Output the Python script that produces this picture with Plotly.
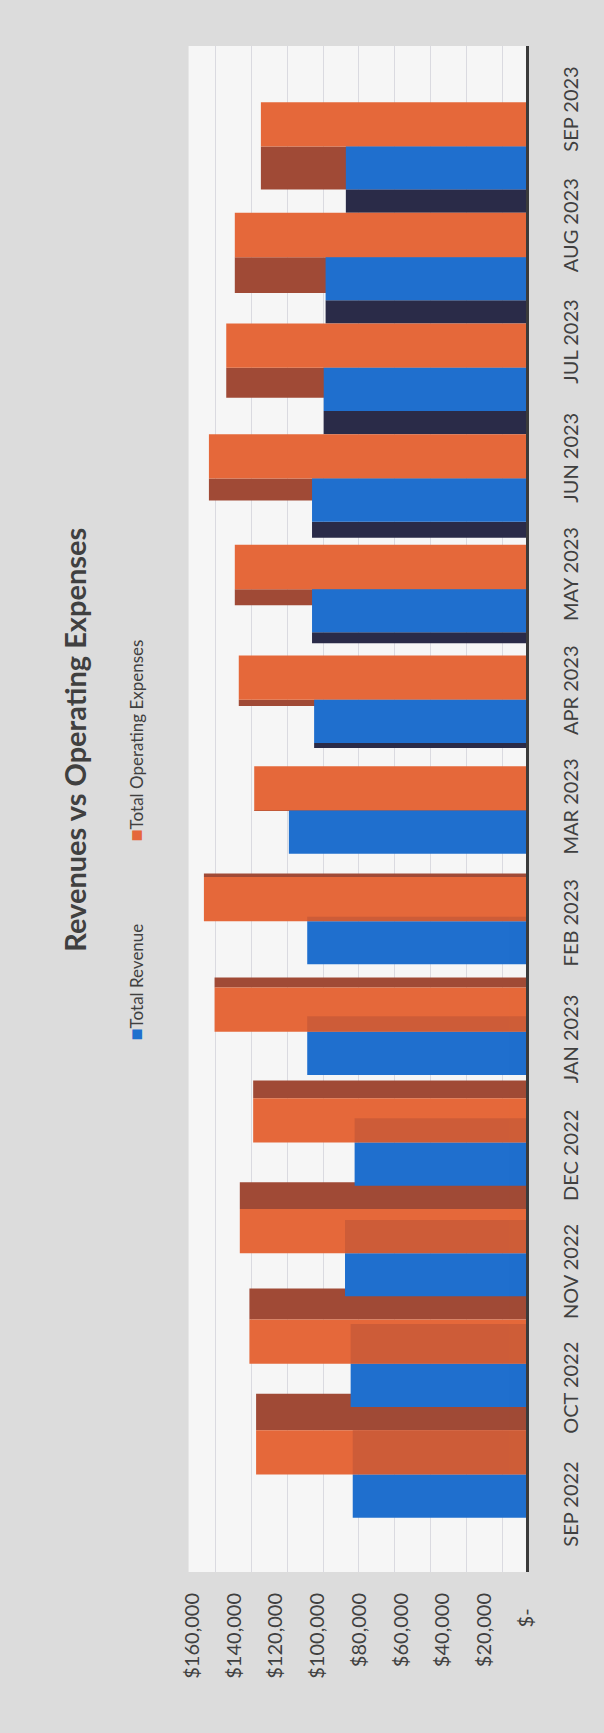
import plotly.graph_objects as go

# ---------------- data ----------------
months = ["SEP 2022", "OCT 2022", "NOV 2022", "DEC 2022", "JAN 2023", "FEB 2023",
          "MAR 2023", "APR 2023", "MAY 2023", "JUN 2023", "JUL 2023", "AUG 2023", "SEP 2023"]
total_revenue = [83200, 84200, 86900, 82300, 105000, 105000, 113800,
                 101700, 102700, 102700, 97100, 96200, 86500]
total_operating_expenses = [129500, 132700, 137300, 130900, 149400, 154500, 130400,
                            137800, 139700, 152100, 143800, 139700, 127200]
value_ticks = [0, 20000, 40000, 60000, 80000, 100000, 120000, 140000, 160000]
value_tick_labels = ["$-\u00a0\u00a0\u00a0", "$20,000", "$40,000", "$60,000", "$80,000",
                     "$100,000", "$120,000", "$140,000", "$160,000"]

# ---------------- styling (pseudo-3D depth faces, in category units) ----------------
FONT = "Lato"
TXT = "#404040"
C_EXP = "#e5683a"
C_EXP_SIDE = "#a04a36"
C_REV = "#1f6fce"
C_REV_SIDE = "#2a2b48"
C_REV_SIDE_BACK = "#c85a38"
W_EXP, W_REV = 0.40, 0.39
exp_depth = [0.33, 0.28, 0.24, 0.16, 0.09, 0.03, 0.0, 0.055, 0.145, 0.20, 0.27, 0.325, 0.39]
rev_depth = [0.40, 0.36, 0.30, 0.22, 0.14, 0.04, 0.0, 0.045, 0.10, 0.145, 0.21, 0.21, 0.21]
n = len(months)
up = [i < 6 for i in range(n)]      # lower part of the chart: side faces shown above
down = [i > 6 for i in range(n)]    # upper part: side faces shown below

fig = go.Figure()

# expense side faces
fig.add_trace(go.Bar(
    y=months, x=total_operating_expenses, orientation="h",
    offset=[W_EXP if up[i] else -exp_depth[i] for i in range(n)],
    width=exp_depth, marker=dict(color=C_EXP_SIDE, line=dict(width=0)),
    showlegend=False, hoverinfo="skip"))

# revenue side faces (upper part)
idx = [i for i in range(n) if down[i]]
fig.add_trace(go.Bar(
    y=[months[i] for i in idx], x=[total_revenue[i] for i in idx], orientation="h",
    offset=[-W_REV - rev_depth[i] for i in idx], width=[rev_depth[i] for i in idx],
    marker=dict(color=C_REV_SIDE, line=dict(width=0)),
    showlegend=False, hoverinfo="skip"))

# front faces
fig.add_trace(go.Bar(
    y=months, x=total_operating_expenses, orientation="h", name="Total Operating Expenses",
    offset=0.0, width=W_EXP, marker=dict(color=C_EXP, line=dict(width=0)), showlegend=False))
fig.add_trace(go.Bar(
    y=months, x=total_revenue, orientation="h", name="Total Revenue",
    offset=-W_REV, width=W_REV, marker=dict(color=C_REV, line=dict(width=0)), showlegend=False))

# revenue side faces seen through expenses (lower part)
idx2 = [i for i in range(n) if up[i]]
fig.add_trace(go.Bar(
    y=[months[i] for i in idx2], x=[total_revenue[i] for i in idx2], orientation="h",
    offset=0.0, width=[rev_depth[i] for i in idx2],
    marker=dict(color=C_REV_SIDE_BACK, line=dict(width=0)), opacity=0.8,
    showlegend=False, hoverinfo="skip"))

# invisible helpers for the back-wall grid axis and the label axis
fig.add_trace(go.Scatter(y=months, x=total_operating_expenses, xaxis="x2", yaxis="y",
                         mode="markers", marker=dict(opacity=0), showlegend=False, hoverinfo="skip"))
fig.add_trace(go.Scatter(y=months, x=total_revenue, xaxis="x", yaxis="y2",
                         mode="markers", marker=dict(opacity=0), showlegend=False, hoverinfo="skip"))

W, H = 604, 1733
x_left, x_zero = 185, 535
y_top, y_bot = 46, 1572
px_per_dollar = (535 - 189) / 160000
back_px_per_dollar = (510 - 213) / 160000

x_dom = [x_left / W, x_zero / W]
y_dom = [1 - y_bot / H, 1 - y_top / H]

bar_center0, bar_step = 1474.5, 110.67
lab_center0, lab_step = 1507.0, 116.25

fig.update_layout(
    width=W, height=H, margin=dict(l=0, r=0, t=0, b=0),
    paper_bgcolor="#dcdcdc", plot_bgcolor="#f6f6f6",
    barmode="overlay",
    font=dict(family=FONT, color=TXT, size=20),
    xaxis=dict(domain=x_dom, range=[(x_zero - x_left) / px_per_dollar, 0],
               tickvals=value_ticks, ticktext=value_tick_labels, tickangle=-90,
               showgrid=False, zeroline=False, showline=False, ticks="",
               ticklabelstandoff=16, tickfont=dict(family=FONT, size=20, color=TXT)),
    xaxis2=dict(domain=x_dom, overlaying="x", anchor="y",
                range=[(510 - x_left) / back_px_per_dollar, (510 - x_zero) / back_px_per_dollar],
                tickvals=value_ticks, showticklabels=False, showgrid=True,
                gridcolor="#dadae0", gridwidth=1, zeroline=False, showline=False),
    yaxis=dict(domain=y_dom, type="category", categoryorder="array", categoryarray=months,
               range=[(bar_center0 - y_bot) / bar_step, (bar_center0 - y_top) / bar_step],
               side="right", showline=True, linecolor="#3a3a3a", linewidth=3,
               showticklabels=False, showgrid=False, zeroline=False, ticks=""),
    yaxis2=dict(type="category", categoryorder="array", categoryarray=months,
                overlaying="y", anchor="x", side="right",
                range=[(lab_center0 - y_bot) / lab_step, (lab_center0 - y_top) / lab_step],
                tickangle=-90, showline=False, showgrid=False, zeroline=False, ticks="",
                ticklabelstandoff=31, tickfont=dict(family=FONT, size=20, color=TXT)),
    annotations=[
        dict(text="<b>Revenues vs Operating Expenses</b>", textangle=-90,
             x=66 / W, y=1 - 740 / H, xref="paper", yref="paper",
             xanchor="center", yanchor="middle", showarrow=False,
             font=dict(family=FONT, size=29, color=TXT)),
        dict(text=f"<span style='color:{C_REV};font-size:20px'>■</span>Total Revenue", textangle=-90,
             x=130 / W, y=1 - 982 / H, xref="paper", yref="paper",
             xanchor="center", yanchor="middle", showarrow=False,
             font=dict(family=FONT, size=17, color=TXT)),
        dict(text=f"<span style='color:{C_EXP};font-size:20px'>■</span>Total Operating Expenses", textangle=-90,
             x=130 / W, y=1 - 740 / H, xref="paper", yref="paper",
             xanchor="center", yanchor="middle", showarrow=False,
             font=dict(family=FONT, size=17, color=TXT)),
    ],
)

fig.write_html("out.html")
